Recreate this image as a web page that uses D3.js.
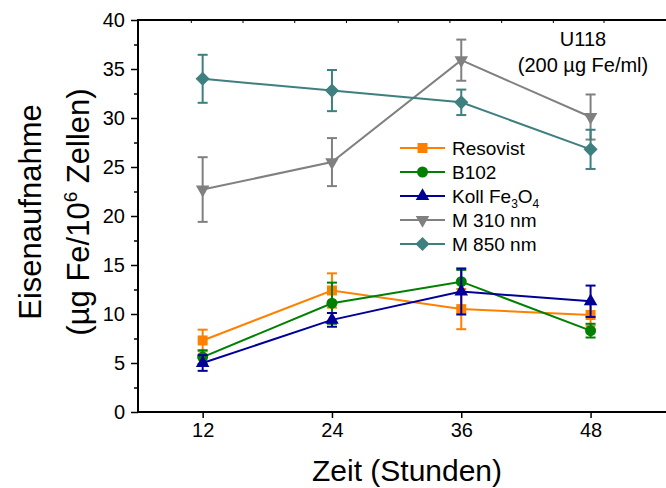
<!DOCTYPE html>
<html><head><meta charset="utf-8">
<script src="https://cdn.jsdelivr.net/npm/d3@7"></script>
<style>
html,body{margin:0;padding:0;background:#fff;}
text{font-family:"Liberation Sans",Arial,sans-serif;fill:#000;}
</style></head>
<body>
<script>
const hours = [12, 24, 36, 48];
const seriesNames = ["Resovist", "B102", "Koll Fe3O4", "M 310 nm", "M 850 nm"];
const resovist = [7.3, 12.4, 10.5, 9.9];
const resovistErr = [1.1, 1.75, 2.05, 1.1];
const b102 = [5.6, 11.1, 13.3, 8.3];
const b102Err = [0.7, 2.1, 1.2, 0.7];
const koll = [5.0, 9.4, 12.3, 11.3];
const kollErr = [0.8, 0.7, 2.35, 1.6];
const m310 = [22.7, 25.5, 35.9, 30.1];
const m310Err = [3.3, 2.45, 2.1, 2.3];
const m850 = [34.0, 32.8, 31.6, 26.8];
const m850Err = [2.45, 2.1, 1.3, 2.0];
const yTicks = [0, 5, 10, 15, 20, 25, 30, 35, 40];
const yMinorTicks = [2.5, 7.5, 12.5, 17.5, 22.5, 27.5, 32.5, 37.5];
const topTicks = [10.9, 15.7, 20.5, 25.3, 30.1, 34.9, 39.7, 44.5, 49.2];

const colors = ["#ff8000", "#008000", "#000099", "#808080", "#3e7f7f"];
const symbols = ["square", "circle", "triangle", "triangleDown", "diamond"];
const values = [resovist, b102, koll, m310, m850];
const errs = [resovistErr, b102Err, kollErr, m310Err, m850Err];

const W = 666, H = 488;
const svg = d3.select("body").append("svg").attr("width", W).attr("height", H);

const x = d3.scaleLinear().domain([6, 55]).range([138, 666]);
const y = d3.scaleLinear().domain([0, 40]).range([412, 20]);

function symPath(kind) {
  if (kind === "square") return d3.symbol(d3.symbolSquare, 100)();
  if (kind === "circle") return d3.symbol(d3.symbolCircle, 95)();
  if (kind === "triangle") return d3.symbol(d3.symbolTriangle, 80)();
  if (kind === "triangleDown") return d3.symbol(d3.symbolTriangle, 80)();
  if (kind === "diamond") return d3.symbol(d3.symbolSquare, 100)();
}
function symRot(kind) {
  if (kind === "triangleDown") return 180;
  if (kind === "diamond") return 45;
  return 0;
}

// axes
const gx = svg.append("g").attr("transform", "translate(0,412)")
  .call(d3.axisBottom(x).tickValues(hours).tickSize(6).tickPadding(5).tickFormat(d3.format("d")));
gx.select(".domain").remove();
gx.selectAll("line").attr("stroke", "#000").attr("stroke-width", 1.5);
gx.selectAll("text").style("font-size", "20px");

const gy = svg.append("g").attr("transform", "translate(138,0)")
  .call(d3.axisLeft(y).tickValues(yTicks).tickSize(7).tickPadding(6).tickFormat(d3.format("d")));
gy.select(".domain").remove();
gy.selectAll("line").attr("stroke", "#000").attr("stroke-width", 1.5);
gy.selectAll("text").style("font-size", "20px");

const gym = svg.append("g").attr("transform", "translate(138,0)")
  .call(d3.axisLeft(y).tickValues(yMinorTicks).tickSize(4).tickFormat(""));
gym.select(".domain").remove();
gym.selectAll("line").attr("stroke", "#000").attr("stroke-width", 1.5);

const gt = svg.append("g").attr("transform", "translate(0,20)")
  .call(d3.axisBottom(x).tickValues(topTicks).tickSize(3).tickFormat(""));
gt.select(".domain").remove();
gt.selectAll("line").attr("stroke", "#000").attr("stroke-width", 1);

// frame lines
svg.append("line").attr("x1", 138).attr("x2", 138).attr("y1", 19).attr("y2", 413).attr("stroke", "#000").attr("stroke-width", 2);
svg.append("line").attr("x1", 137).attr("x2", 666).attr("y1", 412).attr("y2", 412).attr("stroke", "#000").attr("stroke-width", 2);
svg.append("line").attr("x1", 137).attr("x2", 666).attr("y1", 20).attr("y2", 20).attr("stroke", "#000").attr("stroke-width", 2);

// series
const line = d3.line().x((d, i) => x(hours[i])).y(d => y(d));
values.forEach((vals, s) => {
  const g = svg.append("g");
  const c = colors[s];
  // error bars
  vals.forEach((v, i) => {
    const e = errs[s][i];
    const cx = x(hours[i]);
    g.append("line").attr("x1", cx).attr("x2", cx).attr("y1", y(v - e)).attr("y2", y(v + e))
      .attr("stroke", c).attr("stroke-width", 2);
    [v - e, v + e].forEach(t => {
      g.append("line").attr("x1", cx - 5).attr("x2", cx + 5).attr("y1", y(t)).attr("y2", y(t))
        .attr("stroke", c).attr("stroke-width", 2);
    });
  });
  g.append("path").attr("d", line(vals)).attr("fill", "none").attr("stroke", c).attr("stroke-width", 2);
  vals.forEach((v, i) => {
    g.append("path").attr("d", symPath(symbols[s]))
      .attr("transform", `translate(${x(hours[i])},${y(v)}) rotate(${symRot(symbols[s])})`)
      .attr("fill", c);
  });
});

// legend
const lg = svg.append("g");
seriesNames.forEach((name, s) => {
  const ly = 148 + s * 24;
  const c = colors[s];
  lg.append("line").attr("x1", 400).attr("x2", 445).attr("y1", ly).attr("y2", ly).attr("stroke", c).attr("stroke-width", 2);
  lg.append("path").attr("d", symPath(symbols[s]))
    .attr("transform", `translate(422.5,${ly}) rotate(${symRot(symbols[s])})`).attr("fill", c);
  const t = lg.append("text").attr("x", 452).attr("y", ly + 7).style("font-size", "19px");
  if (name === "Koll Fe3O4") {
    t.append("tspan").text("Koll Fe");
    t.append("tspan").text("3").attr("dy", 5).style("font-size", "12px");
    t.append("tspan").text("O").attr("dy", -5);
    t.append("tspan").text("4").attr("dy", 5).style("font-size", "12px");
  } else {
    t.text(name);
  }
});

// annotation
svg.append("text").attr("x", 583).attr("y", 46).attr("text-anchor", "middle").style("font-size", "20px").text("U118");
svg.append("text").attr("x", 583).attr("y", 72).attr("text-anchor", "middle").style("font-size", "20px").text("(200 µg Fe/ml)");

// axis titles
svg.append("text").attr("x", 407).attr("y", 481).attr("text-anchor", "middle").style("font-size", "30px").text("Zeit (Stunden)");
const yt = svg.append("g").attr("transform", "translate(0,212) rotate(-90)");
yt.append("text").attr("x", 0).attr("y", 41).attr("text-anchor", "middle").style("font-size", "31px").text("Eisenaufnahme");
const yt2 = yt.append("text").attr("x", 0).attr("y", 89).attr("text-anchor", "middle").style("font-size", "31px");
yt2.append("tspan").text("(µg Fe/10");
yt2.append("tspan").text("6").attr("dy", -12).style("font-size", "19px");
yt2.append("tspan").text(" Zellen)").attr("dy", 12);
</script>
</body></html>
